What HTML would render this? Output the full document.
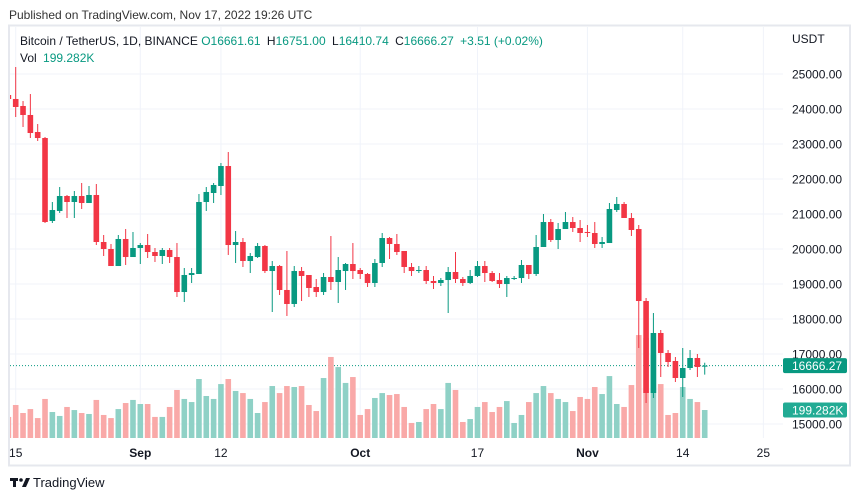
<!DOCTYPE html>
<html><head><meta charset="utf-8"><style>
body{margin:0;background:#fff;width:860px;height:499px;overflow:hidden;font-family:"Liberation Sans",sans-serif}
svg text{font-family:"Liberation Sans",sans-serif}
</style></head><body>
<svg id="c" width="860" height="499">
<text x="9" y="19" font-size="12" fill="#333">Published on TradingView.com, Nov 17, 2022 19:26 UTC</text>
<rect x="9" y="25.5" width="841" height="440" fill="none" stroke="#e6e8ee" stroke-width="2"/>
<g id="grid"></g>
<defs><clipPath id="pc"><rect x="10" y="27" width="773" height="411"/></clipPath></defs>
<g id="vol" clip-path="url(#pc)"></g>
<g id="cand" clip-path="url(#pc)"></g>
<g id="yax"></g>
<g id="xax"></g>
<text x="20" y="45" font-size="12" fill="#131722">Bitcoin / TetherUS, 1D, BINANCE <tspan fill="#089981">O16661.61</tspan>  <tspan dx="3" fill="#131722">H</tspan><tspan fill="#089981">16751.00</tspan> <tspan dx="3" fill="#131722">L</tspan><tspan fill="#089981">16410.74</tspan> <tspan dx="3" fill="#131722">C</tspan><tspan fill="#089981">16666.27</tspan> <tspan dx="3" fill="#089981">+3.51 (+0.02%)</tspan></text>
<text x="20" y="62" font-size="12" fill="#131722">Vol <tspan dx="3" fill="#089981">199.282K</tspan></text>
<text x="792" y="43" font-size="12" fill="#131722">USDT</text>
<g><rect x="10" y="478" width="8" height="3" fill="#131722"/><rect x="13" y="478" width="3" height="9" fill="#131722"/><circle cx="21" cy="480" r="1.8" fill="#131722"/><path d="M22 487 L26 478 L30 478 L26 487 Z" fill="#131722"/>
<text x="33" y="487" font-size="13" fill="#131722">TradingView</text></g>
</svg>
<script>
const days=[-1,0,1,2,3,4,5,6,7,8,9,10,11,12,13,14,15,16,17,18,19,20,21,22,23,24,25,26,27,28,29,30,31,32,33,34,35,36,37,38,39,40,41,42,43,44,45,46,47,48,49,50,51,52,53,54,55,56,57,58,59,60,61,62,63,64,65,66,67,68,69,70,71,72,73,74,75,76,77,78,79,80,81,82,83,84,85,86,87,88,89,90,91,92,93,94];
const opens=[24400,24286,24086,23829,23343,23171,20800,21086,21514,21343,21514,21314,21543,20200,20000,19514,20286,19771,20029,20114,19914,19800,19971,19771,18771,19257,19286,21343,21600,21800,22371,20114,20200,19657,19771,20086,19371,19514,18829,18429,19371,19257,18914,18771,19200,19057,19371,19571,19400,19286,19029,19600,20314,20143,19943,19486,19371,19400,19086,19029,19114,19343,19143,19029,19229,19514,19314,19114,19000,19143,19171,19543,19286,20057,20771,20257,20571,20771,20600,20486,20457,20143,20171,21114,21286,20886,20571,18514,15886,17600,17029,16800,16314,16600,16886,16661.61];
const highs=[24457,25200,24228,24428,23571,23200,21343,21771,21543,21657,21886,21800,21857,20400,20143,20400,20571,20486,20171,20429,20029,20029,20029,20171,19457,19457,21571,21771,21886,22457,22771,20514,20314,19886,20171,20114,19657,19543,19943,19514,19486,19257,19143,19314,20371,19771,19600,20171,19457,19314,19714,20457,20343,20429,19943,19600,19514,19514,19229,19171,19486,19914,19200,19400,19657,19657,19371,19314,19229,19229,19686,19543,20400,21000,20857,20743,21057,20914,20829,20686,20771,20343,21314,21486,21343,21029,20686,18600,18171,17686,17114,16914,17171,17114,17000,16751];
const lows=[24257,23771,23486,23171,23086,20743,20743,21029,20886,20886,21143,21314,20114,19800,19514,19514,19543,19771,19571,19743,19629,19571,19600,18629,18486,19029,19286,21086,21314,21543,19829,19600,19486,19314,19743,19314,18200,18686,18086,18343,18514,18629,18629,18686,18829,18457,18829,19143,19143,18914,18914,19486,19714,19829,19314,19229,19314,19000,18857,18943,18171,19029,18943,19000,19200,19057,19057,18886,18629,19114,19029,19143,19229,20057,20200,20000,20571,20486,20200,20343,20029,20029,20171,21057,20886,20371,17171,15600,15743,16343,16629,16200,15771,16543,16343,16410.74];
const closes=[24286,24057,23829,23314,23171,20771,21114,21514,21343,21514,21314,21543,20200,20000,19514,20286,19771,20029,20114,19914,19800,19971,19771,18771,19257,19314,21343,21629,21829,22371,20114,20200,19657,19800,20086,19371,19514,18829,18429,19371,19229,18886,18771,19200,19057,19400,19571,19371,19286,19029,19600,20314,20143,19914,19486,19371,19400,19086,19029,19114,19343,19143,19029,19229,19514,19314,19086,19000,19171,19171,19543,19286,20057,20771,20257,20571,20771,20600,20457,20457,20143,20200,21143,21286,20886,20543,18514,15886,17600,17029,16771,16314,16600,16886,16629,16666.27];
const volumesK=[150,235,178,206,142,278,185,157,221,199,178,171,271,164,142,206,249,271,242,242,150,150,221,342,278,256,420,299,278,384,420,335,320,278,178,256,370,320,370,363,370,235,192,427,577,505,392,434,164,206,285,320,306,313,221,107,114,206,242,206,392,342,114,135,221,256,185,221,263,107,164,256,320,370,320,278,256,192,292,278,363,313,441,242,221,377,733,712,591,384,164,178,363,278,256,199.282];
const priceTicks=[15000,16000,17000,18000,19000,20000,21000,22000,23000,24000,25000];
const timeTickDays=[0,17,28,47,63,78,91,102];
const timeTickLabels=["15","Sep","12","Oct","17","Nov","14","25"];
const timeTickBold=[false,true,false,true,false,true,false,false];

const NS="http://www.w3.org/2000/svg";
const X=d=>15.7+d*7.33;
const Y=p=>424-(p-15000)*0.035;
const VY=v=>438-v/7.12;
const G="#089981",R="#f23645",GV="#8fd1c6",RV="#f9a9a8";
function mk(tag,attrs,parent){const e=document.createElementNS(NS,tag);for(const k in attrs)e.setAttribute(k,attrs[k]);parent.appendChild(e);return e;}
const grid=document.getElementById('grid'),vol=document.getElementById('vol'),cand=document.getElementById('cand'),yax=document.getElementById('yax'),xax=document.getElementById('xax');
priceTicks.forEach(p=>{
  const l=mk('line',{x1:10,x2:783,y1:Y(p),y2:Y(p),stroke:'#f0f3fa','stroke-width':1},grid);
  
  
  const t=mk('text',{x:792,y:Y(p)+4.5,'font-size':12,fill:'#131722'},yax);
  t.textContent=p.toFixed(2);
  
  
});
timeTickDays.forEach((d,i)=>{
  const l=mk('line',{x1:X(d),x2:X(d),y1:27,y2:438,stroke:'#f0f3fa','stroke-width':1},grid);
  
  
  const t=mk('text',{x:X(d),y:457,'font-size':12,fill:'#131722','text-anchor':'middle','font-weight':timeTickBold[i]?'bold':'normal'},xax);
  t.textContent=timeTickLabels[i];
  
  
});
days.forEach((d,i)=>{
  const up=closes[i]>=opens[i];
  const x=X(d);
  const vb=mk('rect',{x:x-2.8,y:VY(volumesK[i]),width:5.6,height:438-VY(volumesK[i]),fill:up?GV:RV},vol);
  
  
  const w=mk('line',{x1:x,x2:x,y1:Y(highs[i]),y2:Y(lows[i]),stroke:up?G:R,'stroke-width':1},cand);
  
  
  const top=Y(Math.max(opens[i],closes[i])),bot=Y(Math.min(opens[i],closes[i]));
  const b=mk('rect',{x:x-2.8,y:top,width:5.6,height:Math.max(1,bot-top),fill:up?G:R},cand);
  
  
});
const last=closes[closes.length-1];
const pl=mk('line',{x1:10,x2:783,y1:Y(last),y2:Y(last),stroke:'#089981','stroke-width':1,'stroke-dasharray':'1 2'},grid);


const pb=mk('rect',{x:783,y:Y(last)-7.5,width:64,height:15,fill:'#089981',rx:2},yax);


const pt=mk('text',{x:792,y:Y(last)+4.5,'font-size':12,fill:'#fff'},yax);
pt.textContent=last.toFixed(2);


const lv=volumesK[volumesK.length-1];
const vbx=mk('rect',{x:783,y:VY(lv)-7.5,width:64,height:15,fill:'#22ab94',rx:2},yax);


const vt=mk('text',{x:792,y:VY(lv)+4.5,'font-size':12,fill:'#fff'},yax);
vt.textContent=lv.toFixed(3)+'K';


</script>
</body></html>
